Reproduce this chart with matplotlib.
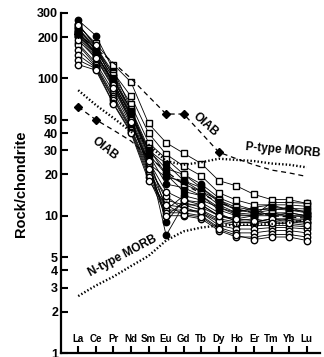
import numpy as np
import matplotlib.pyplot as plt

plt.rcParams["font.family"] = ["Liberation Sans", "DejaVu Sans"]
plt.rcParams["font.weight"] = "bold"

ree = ["La", "Ce", "Pr", "Nd", "Sm", "Eu", "Gd", "Tb", "Dy", "Ho", "Er", "Tm", "Yb", "Lu"]

# samples, chondrite normalised
filled_circles = [
    [265, 205, 115, 60, 28, 17, 16, 14, 11, 10, 10, 12.5, 12.5, 12.3],
    [250, 170, 105, 58, 27, 11, 14, 13, 11.5, 10.5, 11.5, 12, 11, 10.5],
    [235, 160, 100, 55, 26, 7.2, 12, 12, 10, 9.5, 10, 10.5, 10, 10],
    [220, 150, 95, 52, 25, 9, 13, 12.5, 10.5, 9, 9, 9.5, 9.5, 9],
    [205, 145, 90, 50, 24, 19, 18, 15, 13, 11, 10.5, 11, 11.5, 10.5],
    [200, 140, 88, 48, 23, 10, 12.5, 11.5, 10, 9.2, 9.5, 9, 9.5, 9.4],
    [215, 155, 92, 54, 30, 22, 20, 17, 13.5, 12, 11, 10, 10.5, 10],
]
open_circles = [
    [180, 130, 80, 46, 24, 13, 12, 11, 9.5, 9, 8.8, 9, 9, 8.8],
    [175, 125, 75, 44, 22, 12, 11.5, 10.5, 9, 8.5, 8.5, 8.5, 8.5, 8.3],
    [162, 122, 72, 43, 21, 11, 11, 10.5, 8.5, 8, 8, 8.2, 8.2, 8],
    [148, 120, 70, 42, 20, 10.5, 10.5, 10, 8.2, 7.5, 7.5, 7.8, 7.8, 7.5],
    [136, 118, 66, 41, 19, 10, 10, 9.5, 7.8, 7, 7, 7.3, 7.3, 7],
    [126, 115, 65, 40, 18, 12, 10.2, 9.8, 8, 7.2, 6.7, 7, 7, 6.6],
    [245, 175, 90, 50, 22, 14, 11, 10.8, 9.2, 8.8, 9, 9.5, 9.2, 9],
    [190, 140, 85, 48, 25, 15, 13, 12, 10, 9.5, 9.2, 8.8, 8.8, 8.5],
]
open_squares = [
    [240, 180, 126, 94, 47, 34, 28.5, 24, 18, 16.5, 14.3, 13.1, 13.1, 12.3],
    [230, 170, 110, 74, 40, 28, 23, 19.5, 14.7, 13, 12, 12, 12, 11.7],
    [225, 165, 105, 65, 34, 26, 20, 16, 13, 11.5, 11, 11.2, 11, 10.8],
    [210, 150, 95, 60, 31, 20, 17, 15, 12, 10.5, 10.2, 10.5, 10.5, 10],
]
filled_squares = [
    [220, 160, 100, 58, 30, 24, 18, 16, 12.5, 11, 10.8, 11.5, 11.3, 11.2],
    [210, 150, 92, 55, 28, 20, 15, 14, 11.5, 10.2, 10, 10, 10, 9.8],
]

# reference patterns
oiab_high = [210, 165, 130, 100, 74, 55, 55, 40, 29, 26, 23.5, 21.5, 20.5, 19.3]
oiab_high_marks = [0, 5, 6, 8]
oiab_low = [62, 50, 42, 35, 27, 21, 17, 14.5, 12.5, 11.2, 10.5, 10, 9.8, 9.6]
oiab_low_marks = [0, 1]
p_morb = [82, 64, 51.5, 41, 33, 25, 23.5, 24.5, 26, 25.5, 25, 24, 23.5, 22.5]
n_morb = [2.6, 3.1, 3.6, 4.3, 5.1, 6.6, 7.7, 8.2, 8.5, 8.6, 8.6, 8.7, 8.9, 9.3]

x = np.arange(len(ree))

fig = plt.figure(figsize=(3.24, 3.57), dpi=100)
ax = fig.add_axes([0.188, 0.011, 0.80, 0.953])

line_kw = dict(color="black", lw=0.6)
for s in filled_circles:
    ax.plot(x, s, marker="o", ms=4.6, mfc="black", mec="black", **line_kw)
for s in open_squares:
    ax.plot(x, s, marker="s", ms=4.4, mfc="white", mec="black", mew=1.0, **line_kw)
for s in filled_squares:
    ax.plot(x, s, marker="s", ms=4.4, mfc="black", mec="black", **line_kw)
for s in open_circles:
    ax.plot(x, s, marker="o", ms=4.6, mfc="white", mec="black", mew=1.0, **line_kw)

ax.plot(x, oiab_high, color="black", lw=0.9, ls=(0, (4, 3)), marker="D", ms=4,
        markevery=oiab_high_marks, zorder=5)
ax.plot(x, oiab_low, color="black", lw=0.9, ls=(0, (4, 3)), marker="D", ms=4,
        markevery=oiab_low_marks, zorder=5)
ax.plot(x, p_morb, color="black", lw=1.7, ls=(0, (0.6, 0.9)), zorder=5)
ax.plot(x, n_morb, color="black", lw=1.7, ls=(0, (0.6, 0.9)), zorder=5)

ax.set_yscale("log")
ax.set_ylim(1, 300)
ax.set_xlim(-0.985, 13.76)

yt = [1, 2, 3, 4, 5, 10, 20, 30, 40, 50, 100, 200, 300]
ax.set_yticks(yt)
ax.set_yticklabels([str(v) for v in yt])
ax.yaxis.set_minor_locator(plt.NullLocator())
ax.set_xticks(x)
ax.set_xticklabels(ree)

for sp in ["top", "right"]:
    ax.spines[sp].set_visible(False)
for sp in ["left", "bottom"]:
    ax.spines[sp].set_linewidth(1.6)

ax.tick_params(axis="y", direction="in", length=5, width=1.5, pad=2, labelsize=9)
ax.tick_params(axis="x", direction="in", length=5, width=1.5, pad=-14, labelsize=7)
for lab in ax.get_xticklabels() + ax.get_yticklabels():
    lab.set_fontweight("bold")

fig.text(0.065, 0.485, "Rock/chondrite", rotation=90, ha="center", va="center",
         fontsize=10.5, fontweight="bold")

ann = dict(fontsize=8.5, fontweight="bold", ha="center", va="center")
ax.text(1.5, 31, "OIAB", rotation=-38, **ann)
ax.text(7.25, 46, "OIAB", rotation=-42, **ann)
ax.text(11.65, 30, "P-type MORB", rotation=-5, **ann)
ax.text(2.55, 5.1, "N-type MORB", rotation=28, **ann)

fig.savefig("out.png", dpi=100)
